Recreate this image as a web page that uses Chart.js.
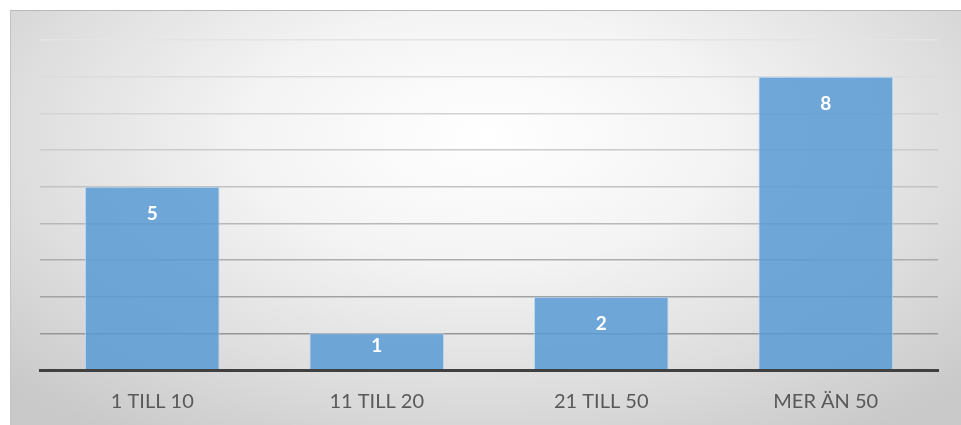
<!DOCTYPE html>
<html>
<head>
<meta charset="utf-8">
<script src="https://cdn.jsdelivr.net/npm/chart.js@4"></script>
<style>
  html, body { margin: 0; padding: 0; background: #ffffff; width: 961px; height: 425px; overflow: hidden; }
  #box {
    position: absolute; left: 10px; top: 10px; width: 950px; height: 420px;
    border-top: 1px solid #b8b8b8; border-left: 1px solid #c4c4c4; border-right: 1px solid #d4d4d4;
    background: radial-gradient(ellipse 70% 85% at 50% 30%, #ffffff 0%, #f4f4f4 35%, #dedede 70%, #c9c9c9 100%);
  }
  #wrap { position: absolute; left: 0; top: 0; width: 950px; height: 415px; }
</style>
</head>
<body>
<div id="box"><div id="wrap"><canvas id="c"></canvas></div></div>
<script>
const categories = ["1 TILL 10", "11 TILL 20", "21 TILL 50", "MER ÄN 50"];
const values = [5, 1, 2, 8];
const yMax = 9;

const gridShades = ["#e4e4e4", "#dcdcdc", "#d4d4d4", "#cbcbcb", "#c2c2c2", "#b8b8b8", "#adadad", "#a2a2a2", "#969696", "#8c8c8c"];

const labelPlugin = {
  id: "barLabels",
  afterDatasetsDraw(chart) {
    const ctx = chart.ctx;
    const meta = chart.getDatasetMeta(0);
    ctx.save();
    ctx.fillStyle = "#ffffff";
    ctx.font = "bold 19px Lato, 'Open Sans', sans-serif";
    ctx.textAlign = "center";
    ctx.textBaseline = "middle";
    meta.data.forEach((bar, i) => {
      const h = bar.base - bar.y;
      const off = Math.min(27, h / 2 - 5);
      ctx.fillText(String(values[i]), bar.x, bar.y + off);
    });
    ctx.restore();
  }
};

new Chart(document.getElementById("c"), {
  type: "bar",
  data: {
    labels: categories,
    datasets: [{
      data: values,
      backgroundColor: "rgba(91,155,213,0.86)",
      borderColor: "rgba(190,215,240,0.9)",
      borderWidth: 1,
      borderSkipped: "bottom",
      barPercentage: 0.6,
      categoryPercentage: 1.0
    }]
  },
  options: {
    responsive: true,
    maintainAspectRatio: false,
    animation: false,
    events: [],
    layout: { padding: { left: 29, right: 23, top: 29, bottom: 0 } },
    plugins: { legend: { display: false }, tooltip: { enabled: false } },
    scales: {
      x: {
        grid: { display: false, drawTicks: false },
        border: { display: true, color: "#404040", width: 3, z: 1 },
        ticks: {
          color: "#595959",
          font: { size: 20, family: "Lato, 'Open Sans', sans-serif" },
          padding: 20,
          maxRotation: 0
        },
        afterFit: (s) => { s.height = 56; }
      },
      y: {
        min: 0, max: yMax,
        ticks: { display: false, stepSize: 1 },
        border: { display: false },
        grid: {
          drawTicks: false,
          lineWidth: 1.5,
          color: (c) => {
            const v = c.tick ? c.tick.value : 0;
            if (v === 0) return "rgba(0,0,0,0)";
            return gridShades[yMax - v];
          }
        }
      }
    }
  },
  plugins: [labelPlugin]
});
</script>
</body>
</html>
